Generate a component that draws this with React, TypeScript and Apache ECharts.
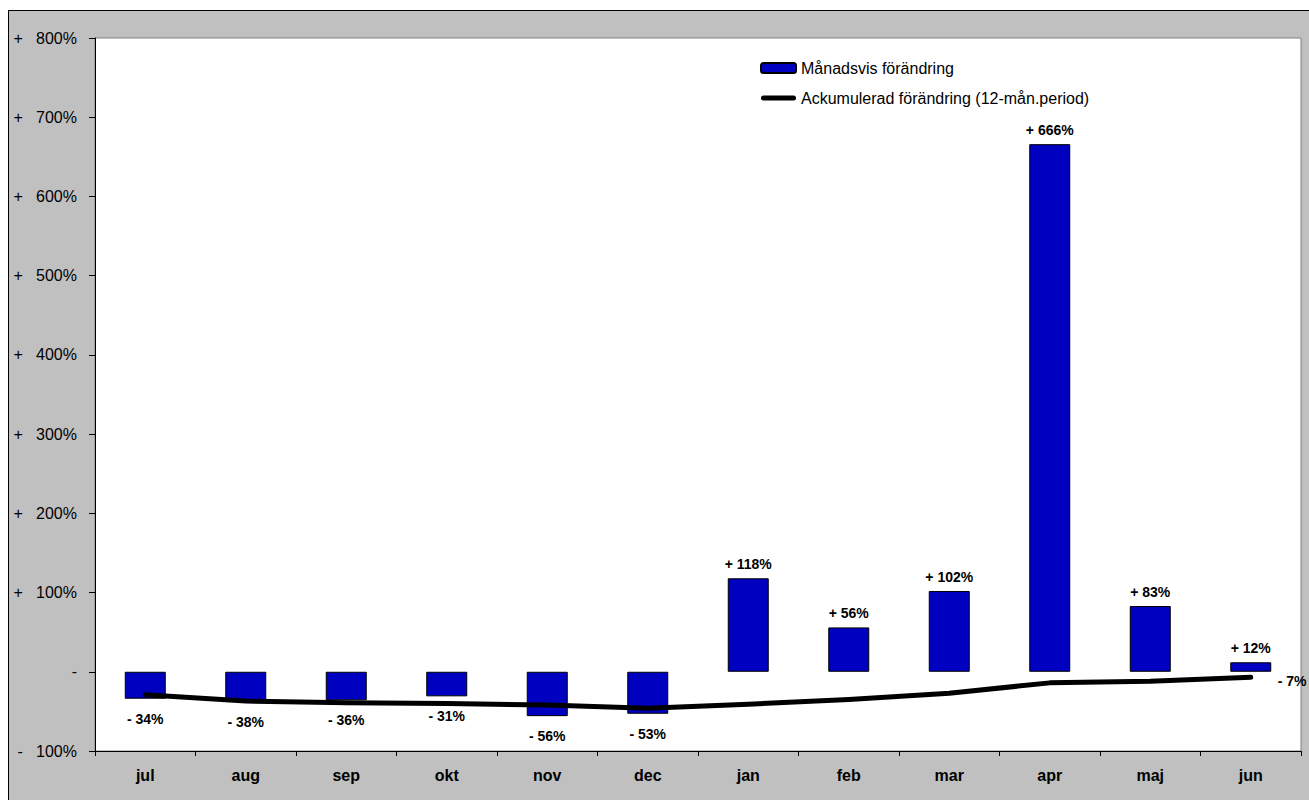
import React, { useEffect, useRef } from "react";
import * as echarts from "echarts";

const categories = ["jul", "aug", "sep", "okt", "nov", "dec", "jan", "feb", "mar", "apr", "maj", "jun"];
const monthlyChange = [-34, -38, -36, -31, -56, -53, 118, 56, 102, 666, 83, 12];
const cumulativeChange = [-29, -37, -39, -40, -42, -46, -41, -35, -27, -14, -12, -7];
const seriesNames = ["Månadsvis förändring", "Ackumulerad förändring (12-mån.period)"];
const yMin = -100;
const yMax = 800;
const yInterval = 100;

const FONT = 'Arial, "Liberation Sans", sans-serif';
const NB = "\u00a0";

const fmtSigned = (v: number) => (v > 0 ? `+${NB}${v}%` : v < 0 ? `-${NB}${Math.abs(v)}%` : "-");
const fmtAxis = (v: number) =>
  v > 0 ? `+${NB}${NB}${NB}${v}%` : v < 0 ? `-${NB}${NB}${NB}${Math.abs(v)}%` : "-";

export default function App() {
  const ref = useRef<HTMLDivElement>(null);
  useEffect(() => {
    document.body.style.margin = "0";
    document.body.style.overflow = "hidden";
    if (!ref.current) return;
    const chart = echarts.init(ref.current, undefined, { renderer: "svg" });
    chart.setOption({
      animation: false,
      textStyle: { fontFamily: FONT },
      grid: {
        left: 86,
        top: 27,
        right: 8,
        bottom: 49,
        show: true,
        backgroundColor: "#ffffff",
        borderColor: "#808080",
        borderWidth: 1,
      },
      legend: {
        orient: "vertical",
        left: 746,
        top: 44,
        itemWidth: 35,
        itemHeight: 10,
        itemGap: 14,
        textStyle: { fontFamily: FONT, fontSize: 16, color: "#000" },
        data: [
          { name: seriesNames[0] },
          {
            name: seriesNames[1],
            icon: "path://M2.5,0 H32.5 A2.5,2.5 0 0 1 32.5,5 H2.5 A2.5,2.5 0 0 1 2.5,0 Z",
            itemStyle: { color: "#000" },
          },
        ],
      },
      xAxis: [
        {
          type: "category",
          data: categories,
          position: "bottom",
          axisLine: { show: false },
          axisTick: { show: false },
          axisLabel: {
            margin: 16,
            fontFamily: FONT,
            fontSize: 16,
            fontWeight: "bold",
            color: "#000",
          },
        },
        {
          type: "category",
          data: categories,
          position: "bottom",
          axisLine: { show: true, onZero: true, lineStyle: { color: "#000", width: 1 } },
          axisTick: { show: true, length: 5, lineStyle: { color: "#000" } },
          axisLabel: { show: false },
        },
      ],
      yAxis: {
        type: "value",
        min: yMin,
        max: yMax,
        interval: yInterval,
        axisLine: { show: true, lineStyle: { color: "#000", width: 1 } },
        axisTick: { show: true, length: 6, lineStyle: { color: "#000" } },
        splitLine: { show: false },
        axisLabel: {
          margin: 18,
          fontFamily: FONT,
          fontSize: 16,
          color: "#000",
          padding: [7, 0, 0, 0],
          formatter: (v: number) => fmtAxis(v),
        },
      },
      series: [
        {
          name: seriesNames[0],
          type: "bar",
          xAxisIndex: 0,
          barWidth: 41,
          itemStyle: { color: "#0000C0", borderColor: "#000", borderWidth: 1 },
          data: monthlyChange.map((v) => ({
            value: v,
            label: {
              show: true,
              position: v >= 0 ? "top" : "bottom",
              distance: v >= 0 ? 7 : 13,
              formatter: () => fmtSigned(v),
              fontFamily: FONT,
              fontSize: 14,
              fontWeight: "bold",
              color: "#000",
            },
          })),
          z: 2,
        },
        {
          name: seriesNames[1],
          type: "line",
          xAxisIndex: 0,
          symbol: "none",
          showSymbol: false,
          lineStyle: { color: "#000", width: 5, cap: "round", join: "round" },
          itemStyle: { color: "#000" },
          endLabel: {
            show: true,
            distance: 27,
            offset: [0, 4],
            formatter: (p: any) => fmtSigned(p.value as number),
            fontFamily: FONT,
            fontSize: 14,
            fontWeight: "bold",
            color: "#000",
          },
          data: cumulativeChange,
          z: 3,
        },
      ],
    });
    return () => chart.dispose();
  }, []);

  return (
    <div
      style={{
        marginLeft: 8,
        marginTop: 10,
        width: 1301,
        height: 790,
        boxSizing: "border-box",
        borderTop: "1px solid #000",
        borderLeft: "1px solid #000",
        background: "#c0c0c0",
        overflow: "hidden",
      }}
    >
      <div ref={ref} style={{ width: 1300, height: 789 }} />
    </div>
  );
}
